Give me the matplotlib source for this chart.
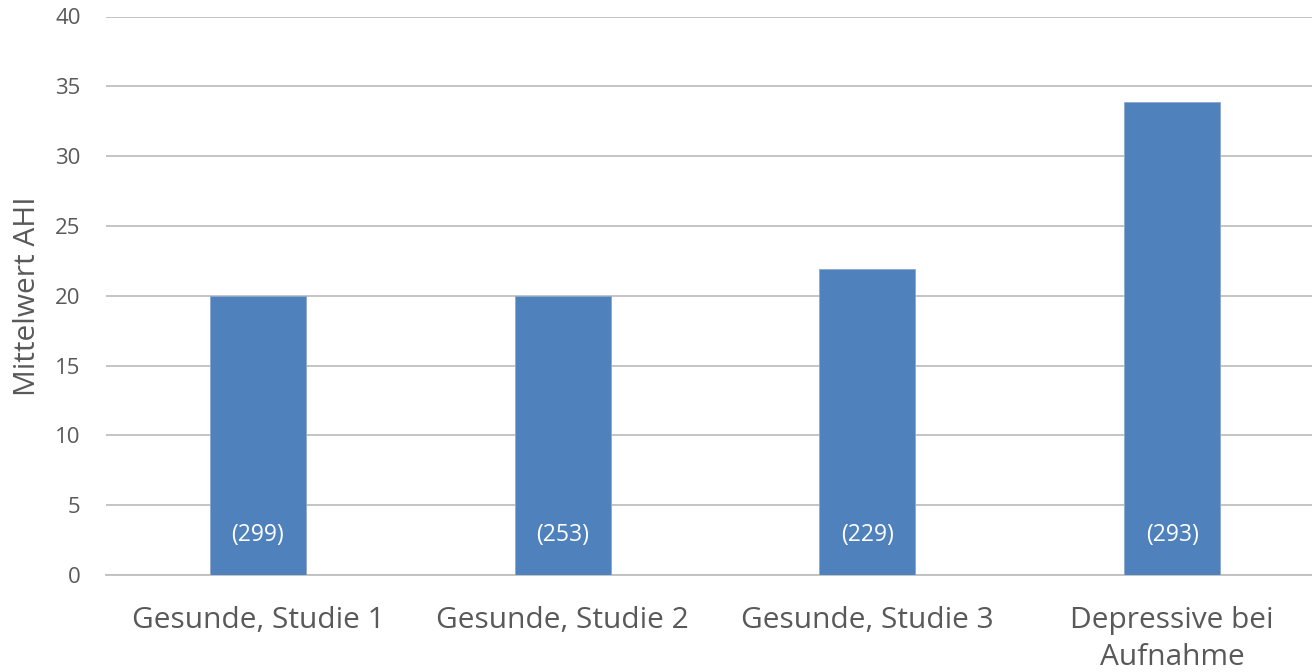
import numpy as np
import matplotlib.pyplot as plt

plt.rcParams['font.family'] = ['Open Sans', 'DejaVu Sans']

categories = ["Gesunde, Studie 1", "Gesunde, Studie 2", "Gesunde, Studie 3", "Depressive bei\nAufnahme"]
mean_ahi = [20.0, 19.95, 21.95, 33.9]
n_labels = ["(299)", "(253)", "(229)", "(293)"]

fig = plt.figure(figsize=(13.12, 6.72), dpi=100)
ax = fig.add_axes([105.5 / 1312, 1 - 575 / 672, 1219 / 1312, (575 - 16.5) / 672])

x = np.arange(len(categories))
ax.bar(x, mean_ahi, width=0.315, color="#4F81BD", edgecolor="#8EA9C8", linewidth=0.6, zorder=3)

for xi, lab in zip(x, n_labels):
    ax.text(xi, 2.85, lab, ha="center", va="center", color="white", fontsize=16.5, zorder=4)

ax.set_xlim(-0.5, 3.5)
ax.set_ylim(0, 40)
ax.set_yticks(np.arange(0, 41, 5))
ax.yaxis.grid(True, color="#BFBFBF", linewidth=1.3, zorder=0)
ax.set_axisbelow(True)
for s in ["top", "right", "left"]:
    ax.spines[s].set_visible(False)
ax.spines["bottom"].set_color("#BFBFBF")
ax.spines["bottom"].set_linewidth(1.3)
ax.tick_params(axis="both", length=0, colors="#595959")
ax.tick_params(axis="y", pad=18, labelsize=16)
ax.set_xticks(x)
ax.set_xticklabels(categories, fontsize=21.5, linespacing=1.38)
ax.tick_params(axis="x", pad=22)
ax.set_ylabel("Mittelwert AHI", fontsize=21.5, color="#595959", labelpad=9)

fig.savefig("out.png", dpi=100)
